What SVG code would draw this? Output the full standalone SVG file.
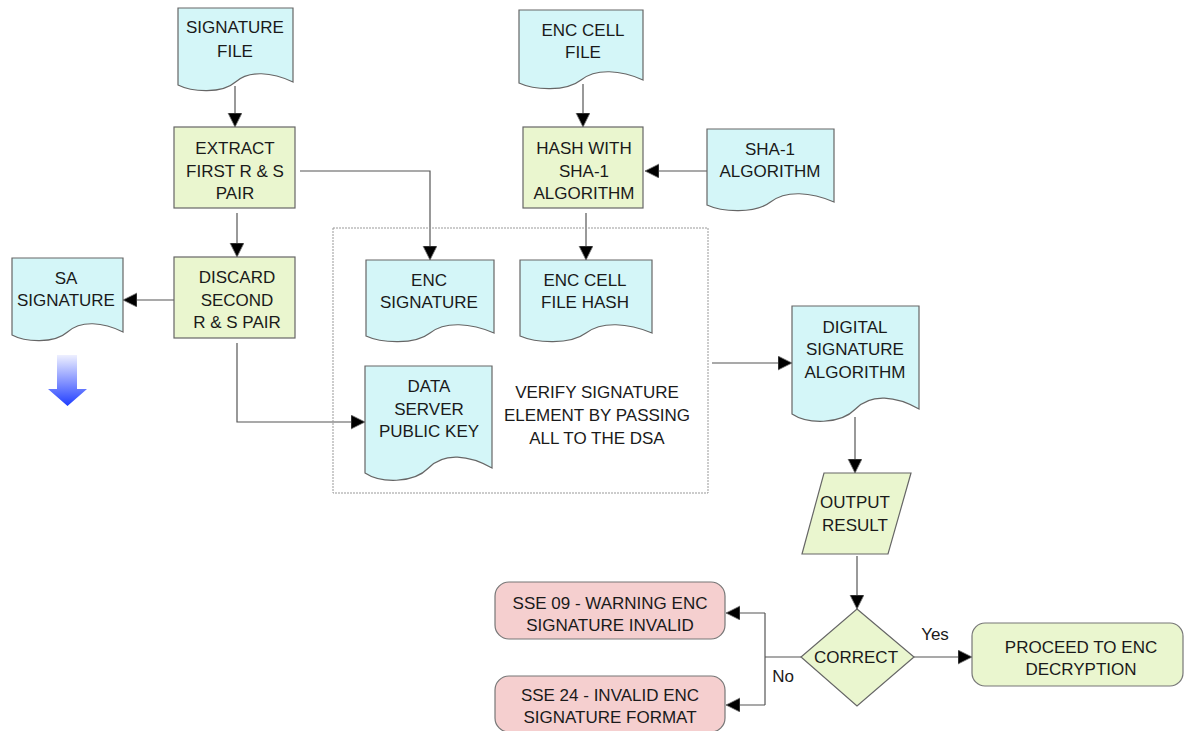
<svg xmlns="http://www.w3.org/2000/svg" width="1184" height="731" viewBox="0 0 1184 731">
<defs>
<style>
.doc{fill:#d4f6f8;stroke:#666;stroke-width:1.2}
.proc{fill:#eaf6cf;stroke:#666;stroke-width:1.2}
.err{fill:#f5cfcf;stroke:#777;stroke-width:1.2}
.ok{fill:#eaf6cf;stroke:#777;stroke-width:1.2}
.frame{fill:none;stroke:#999;stroke-width:1;stroke-dasharray:2,1}
.c{fill:none;stroke:#555;stroke-width:1.2}
text{font-family:"Liberation Sans",Arial,sans-serif;font-size:17px;fill:#1a1a1a;text-anchor:middle}
</style>
<marker id="ah" markerUnits="userSpaceOnUse" markerWidth="16" markerHeight="16" refX="14" refY="7" orient="auto" viewBox="0 0 16 16">
<path d="M0,0 L14,7 L0,14 Z" fill="#000" stroke="#777" stroke-width="0.8"/>
</marker>
<linearGradient id="bg" gradientUnits="userSpaceOnUse" x1="0" y1="355" x2="0" y2="406">
<stop offset="0" stop-color="#eef0ff"/>
<stop offset="0.55" stop-color="#7f8fff"/>
<stop offset="1" stop-color="#1f3dff"/>
</linearGradient>
</defs>

<g id="connectors">
<path class="c" d="M235,86 V127" marker-end="url(#ah)"/>
<path class="c" d="M583,84 V127" marker-end="url(#ah)"/>
<path class="c" d="M707,171 H645" marker-end="url(#ah)"/>
<path class="c" d="M300,171 H430 V260" marker-end="url(#ah)"/>
<path class="c" d="M586,213 V260" marker-end="url(#ah)"/>
<path class="c" d="M237,213 V257" marker-end="url(#ah)"/>
<path class="c" d="M174,300 H123" marker-end="url(#ah)"/>
<path class="c" d="M237,343 V422 H365" marker-end="url(#ah)"/>
<path class="c" d="M712,363 H792" marker-end="url(#ah)"/>
<path class="c" d="M855,417 V473" marker-end="url(#ah)"/>
<path class="c" d="M857,556 V609" marker-end="url(#ah)"/>
<path class="c" d="M914,657 H972" marker-end="url(#ah)"/>
<path class="c" d="M801,657 H765"/>
<path class="c" d="M765,613 V705"/>
<path class="c" d="M765,613 H726" marker-end="url(#ah)"/>
<path class="c" d="M765,705 H726" marker-end="url(#ah)"/>
<text x="935" y="640">Yes</text>
<text x="783" y="682">No</text>
</g>

<g id="signature-file">
<path class="doc" d="M178,8 H293 V82 C272,72 249,70 235.5,82 S192,92 178,85 Z"/>
<text x="235" y="33">SIGNATURE</text>
<text x="235" y="57">FILE</text>
</g>

<g id="extract">
<rect class="proc" x="174" y="127" width="121" height="81"/>
<text x="235" y="154">EXTRACT</text>
<text x="235" y="177">FIRST R &amp; S</text>
<text x="235" y="199">PAIR</text>
</g>

<g id="enc-cell-file">
<path class="doc" d="M519,10 H643 V80 C621,70 596,68 581,80 S534,90 519,83 Z"/>
<text x="583" y="36">ENC CELL</text>
<text x="583" y="58">FILE</text>
</g>

<g id="hash">
<rect class="proc" x="523" y="127" width="120" height="81"/>
<text x="584" y="154">HASH WITH</text>
<text x="584" y="177">SHA-1</text>
<text x="584" y="199">ALGORITHM</text>
</g>

<g id="sha1">
<path class="doc" d="M707,129 H834 V202 C811,192 786,190 770.5,202 S722,212 707,205 Z"/>
<text x="770" y="155">SHA-1</text>
<text x="770" y="177">ALGORITHM</text>
</g>

<g id="sa-signature">
<path class="doc" d="M12,258 H123 V332 C103,322 81,320 67.5,332 S25,342 12,335 Z"/>
<text x="66" y="284">SA</text>
<text x="66" y="306">SIGNATURE</text>
</g>

<g id="blue-arrow">
<polygon points="57,355 77,355 77,389 87,389 67.5,406 48,389 57,389" fill="url(#bg)"/>
</g>

<g id="discard">
<rect class="proc" x="174" y="257" width="121" height="81"/>
<text x="237" y="283">DISCARD</text>
<text x="237" y="306">SECOND</text>
<text x="237" y="328">R &amp; S PAIR</text>
</g>

<g id="verify-frame">
<rect class="frame" x="333" y="228" width="375" height="265"/>
<text x="597" y="398">VERIFY SIGNATURE</text>
<text x="597" y="421">ELEMENT BY PASSING</text>
<text x="597" y="444">ALL TO THE DSA</text>
</g>

<g id="enc-signature">
<path class="doc" d="M366,260 H494 V333 C471,323 445,321 430,333 S381,343 366,336 Z"/>
<text x="429" y="286">ENC</text>
<text x="429" y="308">SIGNATURE</text>
</g>

<g id="enc-cell-file-hash">
<path class="doc" d="M520,260 H652 V333 C628,323 602,321 586,333 S536,343 520,336 Z"/>
<text x="585" y="286">ENC CELL</text>
<text x="585" y="308">FILE HASH</text>
</g>

<g id="data-server">
<path class="doc" d="M365,366 H492 V468 C469,455 444,452 428.5,468 S380,483 365,473 Z"/>
<text x="429" y="392">DATA</text>
<text x="429" y="415">SERVER</text>
<text x="429" y="437">PUBLIC KEY</text>
</g>

<g id="dsa">
<path class="doc" d="M792,306 H919 V409 C896,396 871,393 855.5,409 S807,424 792,414 Z"/>
<text x="855" y="333">DIGITAL</text>
<text x="855" y="355">SIGNATURE</text>
<text x="855" y="378">ALGORITHM</text>
</g>

<g id="output">
<polygon class="proc" points="824,473 911,473 888,554 802,554"/>
<text x="855" y="508">OUTPUT</text>
<text x="855" y="531">RESULT</text>
</g>

<g id="correct">
<polygon class="proc" points="857,609 914,657 857,706 801,657"/>
<text x="856" y="663">CORRECT</text>
</g>

<g id="proceed">
<rect class="ok" x="972" y="623" width="211" height="63" rx="13"/>
<text x="1081" y="653">PROCEED TO ENC</text>
<text x="1081" y="675">DECRYPTION</text>
</g>

<g id="sse09">
<rect class="err" x="495" y="582" width="230" height="57" rx="14"/>
<text x="610" y="609">SSE 09 - WARNING ENC</text>
<text x="610" y="631">SIGNATURE INVALID</text>
</g>

<g id="sse24">
<rect class="err" x="495" y="676" width="230" height="56" rx="14"/>
<text x="610" y="701">SSE 24 - INVALID ENC</text>
<text x="610" y="723">SIGNATURE FORMAT</text>
</g>
</svg>
